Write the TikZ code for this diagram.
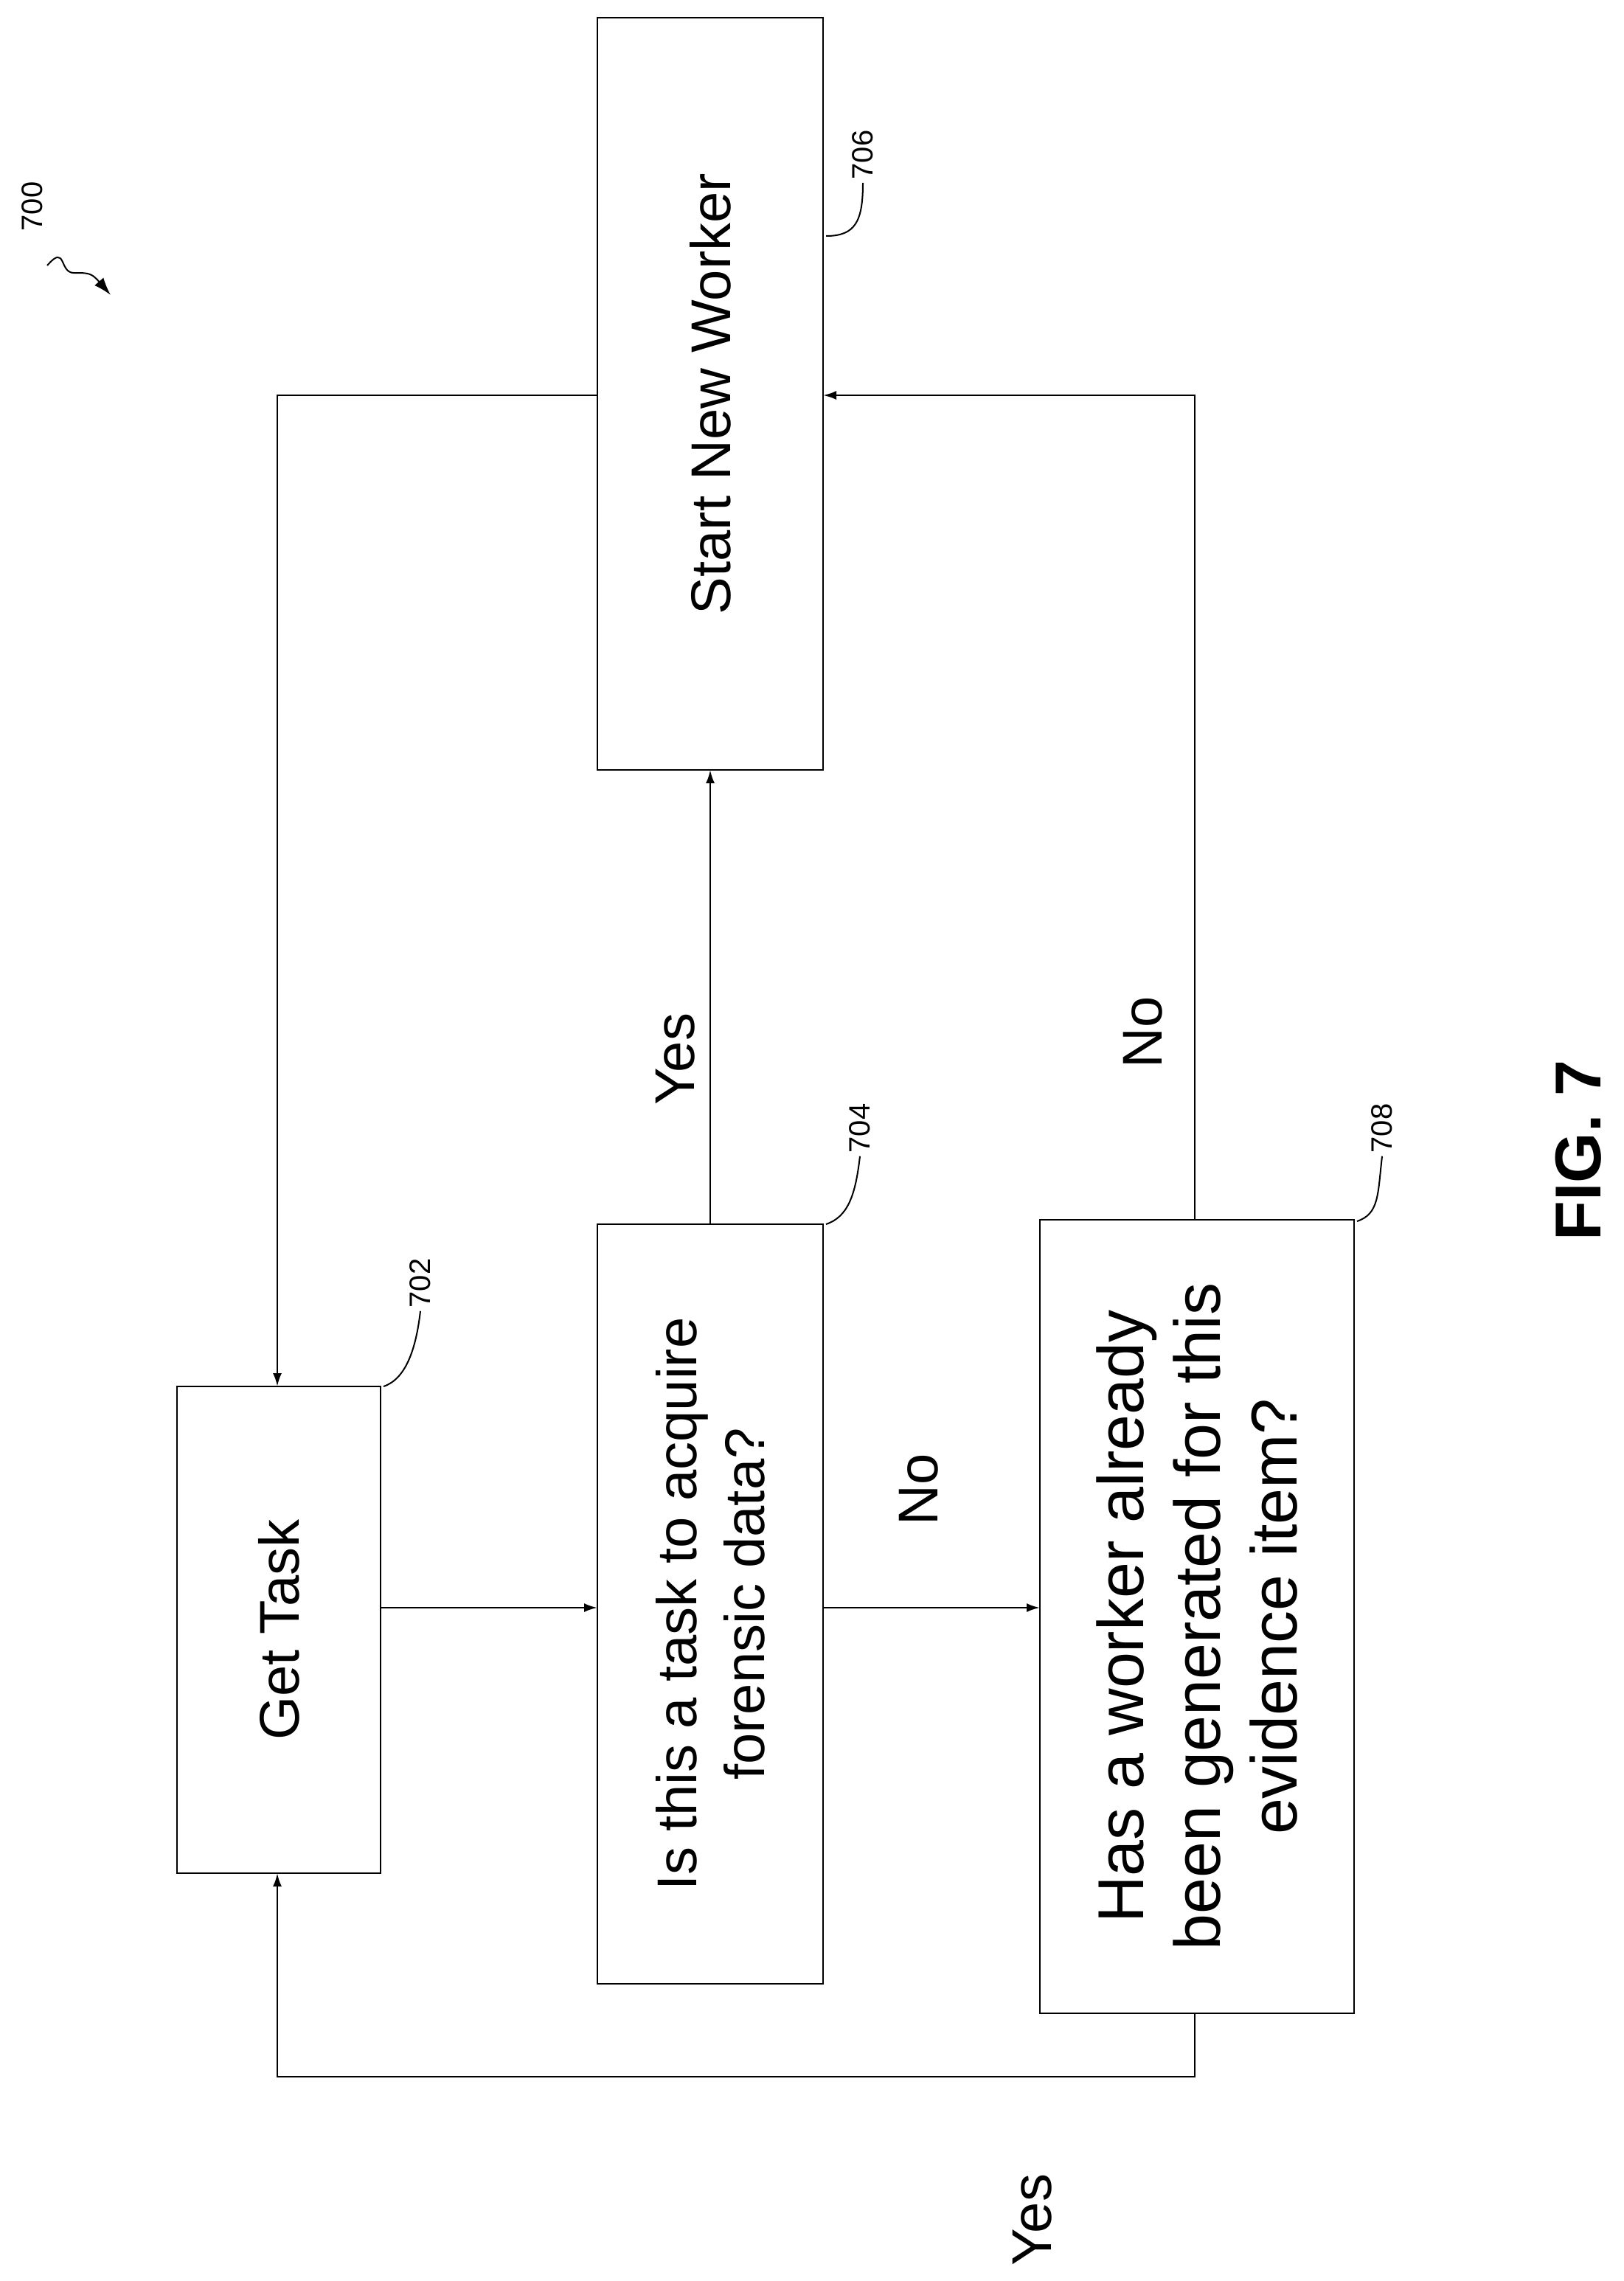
\documentclass[tikz,border=0pt]{standalone}
\usepackage{fontspec}
\setmainfont{Liberation Sans}
\usetikzlibrary{arrows.meta}
\begin{document}
\begin{tikzpicture}[x=1pt,y=-1pt,
 box/.style={draw,line width=1.2pt,inner sep=0pt},
 ln/.style={line width=1.3pt},
 arr/.style={ln,-{Latex[length=9pt,width=6pt]}},
 txt/.style={rotate=90,font=\fontsize{38}{46}\selectfont,align=center},
 rf/.style={rotate=90,font=\fontsize{20}{24}\selectfont,inner sep=2pt},
 lead/.style={line width=1pt}]
\useasboundingbox (0,0) rectangle (1100.5,1546.5);
\node[box,minimum width=138pt,minimum height=330pt] (gt) at (189,1105) {};
\node[txt] (gtt) at (189,1105) {Get Task};
\node[box,minimum width=153pt,minimum height=515pt] (q1) at (481.5,1087.5) {};
\node[txt] (q1t) at (481.5,1087.5) {Is this a task to acquire\\forensic data?};
\node[box,minimum width=153pt,minimum height=510pt] (sw) at (481.5,267) {};
\node[txt] (swt) at (481.5,267) {Start New Worker};
\node[box,minimum width=213pt,minimum height=538pt] (q2) at (811.5,1096) {};
\node[txt,font=\fontsize{44}{52}\selectfont] (q2t) at (811.5,1096) {Has a worker already\\been generated for this\\evidence item?};
\coordinate (gtR) at (258,1090);
\coordinate (q1L) at (405,1090);
\coordinate (q1R) at (558,1090);
\coordinate (q2L) at (705,1090);
\coordinate (q1T) at (481.5,830);
\coordinate (swB) at (481.5,522);
\coordinate (q2T) at (810,827);
\coordinate (c1) at (810,268);
\coordinate (swR) at (558,268);
\coordinate (swL) at (405,268);
\coordinate (c2) at (188,268);
\coordinate (gtT) at (188,940);
\coordinate (q2B) at (810,1365);
\coordinate (c3) at (810,1408);
\coordinate (c4) at (188,1408);
\coordinate (gtB) at (188,1270);
\draw[arr] (gtR) -- (q1L);
\draw[arr] (q1R) -- (q2L);
\draw[arr] (q1T) -- (swB);
\draw[arr] (q2T) -- (c1) -- (swR);
\draw[arr] (swL) -- (c2) -- (gtT);
\draw[arr] (q2B) -- (c3) -- (c4) -- (gtB);
\node[txt] (no1) at (623,1010) {No};
\node[txt] (yes1) at (458,718) {Yes};
\node[txt] (no2) at (775,700) {No};
\node[txt] (yes2) at (700,1505) {Yes};
\node[rotate=90,font=\bfseries\fontsize{44}{50}\selectfont] (fig) at (1070,780) {FIG. 7};
\node[rf] (r702) at (285,870) {702};
\node[rf] (r704) at (583,765) {704};
\node[rf] (r706) at (585,105) {706};
\node[rf] (r708) at (937,765) {708};
\node[rf] (r700) at (22,140) {700};
\draw[lead] (260,940) .. controls (275,935) and (282,915) .. (r702.west);
\draw[lead] (560,830) .. controls (575,825) and (580,810) .. (r704.west);
\draw[lead] (560,160) .. controls (580,160) and (585,150) .. (r706.west);
\draw[lead] (920,828) .. controls (935,823) and (934,810) .. (r708.west);
\draw[lead,-{Latex[length=12pt,width=8pt]}] (32,180) .. controls (45,165) and (40,185) .. (50,185) .. controls (60,185) and (62,185) .. (75,200);
\end{tikzpicture}
\end{document}
